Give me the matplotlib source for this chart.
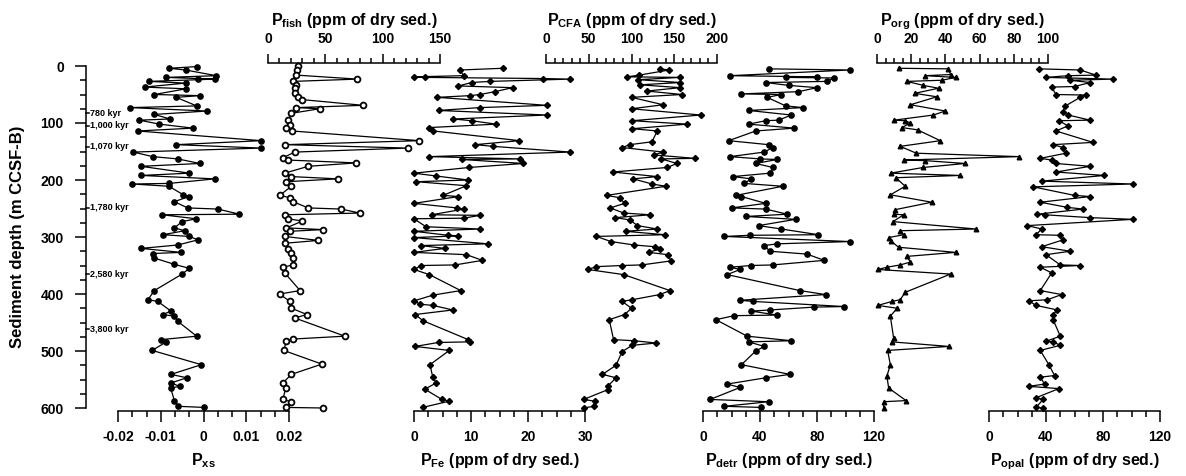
import matplotlib
matplotlib.use('Agg')
import matplotlib.pyplot as plt
from matplotlib.ticker import FixedLocator, MultipleLocator

plt.rcParams['font.family'] = ['Liberation Sans', 'DejaVu Sans']
plt.rcParams['font.weight'] = 'bold'
plt.rcParams['mathtext.fontset'] = 'custom'
plt.rcParams['mathtext.rm'] = 'Liberation Sans:bold'
plt.rcParams['mathtext.bf'] = 'Liberation Sans:bold'
plt.rcParams['mathtext.it'] = 'Liberation Sans:bold'
plt.rcParams['axes.unicode_minus'] = False

# ---- data (depth in m CCSF-B) ----
pxs_depth = [1, 4, 7, 17, 20, 22, 23, 27, 30, 37, 40, 50, 52, 55, 70, 73, 79, 85, 93, 95,
             102, 109, 114, 131, 138, 144, 151, 159, 163, 171, 176, 188, 192, 198, 206, 207, 211, 226, 229, 238,
             249, 251, 260, 261, 268, 273, 284, 289, 296, 299, 305, 314, 320, 327, 329, 337, 348, 355, 365, 394,
             410, 413, 430, 436, 439, 448, 474, 480, 484, 499, 524, 541, 547, 556, 562, 565, 587, 597, 599]
pxs = [-0.0016, -0.0080, -0.0042, 0.0030, -0.0087, -0.0013, 0.0028, -0.0128, -0.0042, -0.0138,
       -0.0041, -0.0115, -0.0008, -0.0064, -0.0016, -0.0172, 0.0008, -0.0115, -0.0078, -0.0150,
       -0.0103, -0.0025, -0.0154, 0.0135, -0.0064, 0.0135, -0.0164, -0.0119, -0.0060, -0.0009,
       -0.0146, -0.0033, -0.0146, 0.0026, -0.0080, -0.0167, -0.0081, -0.0047, -0.0034, -0.0068,
       -0.0037, 0.0034, 0.0084, -0.0097, -0.0017, -0.0050, -0.0068, -0.0044, -0.0095, -0.0033,
       -0.0013, -0.0060, -0.0146, -0.0052, -0.0119, -0.0115, -0.0068, -0.0033, -0.0050, -0.0115,
       -0.0130, -0.0107, -0.0076, -0.0095, -0.0068, -0.0060, -0.0016, -0.0099, -0.0087, -0.0120,
       -0.0005, -0.0076, -0.0039, -0.0076, -0.0056, -0.0077, -0.0068, -0.0060, 0.0002]

fish_depth = [0, 7, 16, 23, 27, 33, 39, 48, 55, 59, 69, 73, 75, 83, 95, 103, 109, 114, 131, 138,
              144, 151, 161, 165, 170, 176, 188, 194, 198, 203, 211, 227, 231, 238, 249, 251, 258, 261, 268, 272,
              284, 287, 290, 299, 306, 311, 321, 328, 337, 349, 353, 363, 394, 400, 413, 425, 436, 442, 474, 479,
              483, 499, 523, 541, 556, 565, 585, 589, 599, 600]
fish = [26, 25, 24.8, 78, 21.8, 24, 23.3, 23.3, 26, 30, 83, 24.8, 45, 20.4, 17.5, 19, 16, 21, 132, 14.6,
        122, 23.3, 13, 17.5, 77, 35, 14.6, 20.4, 61, 16, 20.4, 10.2, 19, 21.8, 35, 64, 80, 14.6, 17.5, 30,
        16, 48, 19, 14.6, 44, 14.6, 17.5, 20.4, 22, 21.8, 13, 14.6, 28, 10.2, 19, 20.4, 34, 23.3, 67, 22,
        16, 13.7, 47, 20.4, 13, 15.4, 13, 20, 16, 48]

fe_depth = [4, 7, 17, 19, 20, 22, 23, 27, 29, 35, 38, 45, 50, 52, 55, 69, 73, 78, 86, 93,
            96, 102, 108, 114, 131, 138, 141, 151, 159, 163, 164, 171, 178, 188, 193, 200, 203, 210, 227, 229,
            241, 249, 251, 261, 262, 267, 268, 282, 286, 290, 297, 298, 301, 312, 315, 320, 327, 331, 341, 349,
            350, 357, 366, 394, 402, 412, 418, 420, 428, 436, 447, 480, 484, 485, 492, 499, 524, 546, 556, 567,
            585, 588, 599]
fe = [15.6, 8.1, 8.7, 0, 1.9, 22.7, 27.4, 13.3, 10.1, 7.8, 17.3, 14.2, 11.6, 9.8, 4.1, 23.3, 11.5, 4.3, 23.3, 6.9,
      10.1, 14.4, 2.7, 3.4, 18.5, 10.7, 13.9, 27.4, 2.7, 18.6, 8.4, 19.2, 9.7, 0, 3.9, 9.5, 0.4, 9.2, 5.1, 7.8,
      0, 7.5, 8.7, 3.1, 11.6, 8.7, 0, 2.1, 11.6, 0, 6.0, 7.8, 0, 13.0, 1.2, 5.4, 0, 9.2, 12.0, 7.2,
      1.3, 0, 2.7, 8.2, 3.3, 0, 1.1, 3.3, 6.8, 0.2, 1.6, 9.5, 9.8, 4.3, 0.2, 6.2, 2.8, 3.3, 3.9, 1.9,
      4.9, 6.2, 1.5]

cfa_depth = [5, 7, 16, 19, 20, 24, 29, 33, 38, 44, 50, 55, 68, 75, 86, 96, 102, 110, 114, 133,
             138, 143, 151, 156, 162, 163, 171, 178, 186, 194, 198, 207, 211, 227, 231, 241, 249, 258, 261, 266,
             270, 280, 286, 290, 296, 299, 308, 314, 317, 321, 327, 331, 342, 349, 350, 352, 357, 366, 394, 401,
             410, 413, 425, 436, 445, 480, 482, 486, 490, 501, 525, 541, 547, 562, 568, 585, 588, 597, 600]
cfa = [133, 144, 109, 95, 157, 108, 157, 110, 157, 118, 159, 100, 137, 100, 181, 101, 165, 101, 130, 124,
       98, 89, 137, 126, 174, 135, 153, 142, 78, 130, 102, 124, 140, 71, 86, 92, 75, 91, 122, 81,
       98, 107, 130, 93, 139, 59, 76, 103, 127, 133, 120, 143, 146, 112, 89, 59, 49, 91, 145, 133,
       101, 89, 100, 92, 74, 79, 103, 129, 101, 89, 82, 66, 82, 72, 72, 44, 57, 56, 44]

detr_depth = [5, 7, 17, 19, 20, 21, 27, 29, 34, 38, 45, 49, 50, 55, 70, 73, 78, 86, 95, 96,
              102, 109, 114, 131, 138, 143, 151, 159, 163, 164, 171, 178, 188, 194, 198, 206, 211, 227, 229, 241,
              249, 251, 260, 264, 269, 280, 286, 296, 297, 299, 308, 312, 315, 325, 330, 341, 349, 350, 353, 357,
              366, 394, 401, 411, 413, 422, 423, 428, 430, 437, 438, 445, 474, 482, 484, 492, 500, 524, 541, 547,
              558, 564, 585, 589, 597, 599]
detr = [46, 103, 19, 80, 58, 92, 87, 44, 60, 80, 67, 27, 55, 45, 58, 70, 32, 62, 53, 44,
        32, 64, 37, 18, 46, 49, 43, 19, 40, 52, 37, 49, 47, 21, 34, 29, 56, 23, 27, 44,
        20, 44, 59, 30, 65, 39, 55, 81, 33, 15, 103, 52, 43, 47, 73, 85, 49, 34, 19, 26,
        17, 68, 86, 26, 35, 99, 78, 47, 34, 52, 22, 9, 31, 62, 32, 43, 37, 27, 61, 44,
        17, 26, 5, 46, 15, 41]

org_depth = [4, 5, 15, 17, 20, 25, 27, 34, 39, 48, 54, 68, 79, 86, 95, 96, 100, 108, 112, 131,
             141, 153, 159, 165, 166, 171, 178, 188, 192, 196, 211, 226, 239, 252, 260, 261, 273, 286, 289, 296,
             301, 307, 318, 327, 334, 344, 349, 353, 357, 365, 397, 410, 413, 420, 425, 439, 477, 484, 492, 499,
             524, 544, 565, 587, 589, 600]
org = [12.6, 41.8, 43, 28, 46, 38, 17.5, 27, 36, 22, 35, 19.5, 40, 33, 10, 16.5, 19.5, 14.6, 23.7, 37,
       13.6, 23, 83, 15.6, 28, 51.6, 27, 8, 48.6, 11, 16.5, 7.8, 32, 10.7, 9.7, 15.6, 9.3, 58, 13.6, 15.6,
       6.8, 8.2, 12.6, 46, 17.5, 19.5, 13.6, 5.8, 0.5, 43, 16.5, 13.6, 8.8, 0.5, 11.7, 7.8, 9.7, 8.8, 42, 6.2,
       7.8, 5.8, 6.8, 17, 3.9, 3.9]

opal_depth = [5, 7, 16, 17, 20, 23, 25, 29, 36, 37, 50, 51, 55, 71, 81, 86, 95, 96, 105, 114,
              134, 138, 143, 153, 162, 165, 171, 176, 186, 192, 202, 207, 212, 227, 229, 239, 248, 251, 260, 261,
              266, 269, 280, 286, 296, 297, 305, 317, 325, 331, 349, 350, 353, 363, 394, 401, 410, 412, 420, 428,
              436, 445, 474, 483, 484, 490, 499, 524, 543, 546, 558, 562, 566, 582, 585, 599, 600]
opal = [35, 64, 75, 55.5, 40, 87, 57, 71, 60, 44, 47, 68, 64, 53, 52, 55.5, 71, 49, 55.5, 47,
        73, 45, 52, 54, 36, 44, 47, 71, 47, 81, 37, 101, 31, 60, 71, 36, 55, 66, 34, 39,
        71, 101, 27, 37, 33, 50, 52, 37, 57, 40, 50, 64, 36, 44, 36, 51, 41, 28, 33, 48,
        45, 45, 50, 40, 45, 50, 36, 42, 46, 36, 39, 28, 49, 33, 38, 33, 38]

age_depth = [83, 105, 142, 249, 365, 462]
age_labels = ['780 kyr', '1,000 kyr', '1,070 kyr', '1,780 kyr', '2,580 kyr', '3,800 kyr']

depth_ticks = [0, 100, 200, 300, 400, 500, 600]
pxs_ticks = [-0.02, -0.01, 0, 0.01, 0.02]
pxs_ticklabels = ['-0.02', '-0.01', '0', '0.01', '0.02']
fish_ticks = [0, 50, 100, 150]
fe_ticks = [0, 10, 20, 30]
cfa_ticks = [0, 50, 100, 150, 200]
detr_ticks = [0, 40, 80, 120]
org_ticks = [0, 20, 40, 60, 80, 100]
opal_ticks = [0, 40, 80, 120]

# ---- layout in pixels ----
W, H = 1186, 476
Y_TOP, Y_BOT = 66, 408
fig = plt.figure(figsize=(W / 100, H / 100), dpi=100)


def panel(left, width, ticks, labels, minor, side, xlabel):
    ax = fig.add_axes([left / W, 1 - Y_BOT / H, width / W, (Y_BOT - Y_TOP) / H])
    ax.patch.set_visible(False)
    ax.set_ylim(600, 0)
    ax.set_xlim(ticks[0], ticks[-1])
    ax.set_yticks([])
    other = 'bottom' if side == 'top' else 'top'
    for s in ['left', 'right', other]:
        ax.spines[s].set_visible(False)
    ax.spines[side].set_position(('outward', 2))
    ax.spines[side].set_linewidth(1.1)
    ax.xaxis.set_ticks_position(side)
    ax.xaxis.set_label_position(side)
    ax.set_xticks(ticks)
    ax.set_xticklabels(labels)
    ax.xaxis.set_minor_locator(FixedLocator(minor))
    if side == 'bottom':
        ax.tick_params(axis='x', which='major', length=8, width=1.1, pad=6, labelsize=10)
        ax.tick_params(axis='x', which='minor', length=4.5, width=1.1)
    else:
        ax.tick_params(axis='x', which='major', length=6.5, width=1.1, pad=6, labelsize=10)
        ax.tick_params(axis='x', which='minor', length=3.5, width=1.1)
    ax.set_xlabel(xlabel, fontsize=11.5, fontweight='bold', labelpad=5)
    return ax


def series(ax, x, y, marker, **kw):
    ax.plot(x, y, color='black', lw=0.9, marker=marker, clip_on=False, **kw)


def steps(a, b, n):
    return [a + (b - a) * i / n for i in range(n + 1)]


ax_xs = panel(118, 171, pxs_ticks, pxs_ticklabels, steps(-0.02, 0.02, 12), 'bottom', r'$\mathregular{P_{xs}}$')
series(ax_xs, pxs, pxs_depth, 'o', ms=3.8, mfc='black', mec='black')

ax_fish = panel(268, 172, fish_ticks, [str(t) for t in fish_ticks], steps(0, 150, 15), 'top',
                r'$\mathregular{P_{fish}}$ (ppm of dry sed.)')
series(ax_fish, fish, fish_depth, 'o', ms=4.2, mfc='white', mec='black', mew=1.3)

ax_fe = panel(414, 171, fe_ticks, [str(t) for t in fe_ticks], steps(0, 30, 12), 'bottom',
              r'$\mathregular{P_{Fe}}$ (ppm of dry sed.)')
series(ax_fe, fe, fe_depth, 'D', ms=3.1, mfc='black', mec='black')

ax_cfa = panel(546, 171, cfa_ticks, [str(t) for t in cfa_ticks], steps(0, 200, 20), 'top',
               r'$\mathregular{P_{CFA}}$ (ppm of dry sed.)')
series(ax_cfa, cfa, cfa_depth, 'D', ms=3.1, mfc='black', mec='black')

ax_detr = panel(703, 171, detr_ticks, [str(t) for t in detr_ticks], steps(0, 120, 12), 'bottom',
                r'$\mathregular{P_{detr}}$ (ppm of dry sed.)')
series(ax_detr, detr, detr_depth, 'o', ms=3.8, mfc='black', mec='black')

ax_org = panel(877, 171, org_ticks, [str(t) for t in org_ticks], steps(0, 100, 20), 'top',
               r'$\mathregular{P_{org}}$ (ppm of dry sed.)')
series(ax_org, org, org_depth, '^', ms=3.3, mfc='black', mec='black')

ax_opal = panel(989, 171, opal_ticks, [str(t) for t in opal_ticks], steps(0, 120, 12), 'bottom',
                r'$\mathregular{P_{opal}}$ (ppm of dry sed.)')
series(ax_opal, opal, opal_depth, 'D', ms=3.0, mfc='black', mec='black')

# ---- depth axis with age markers ----
ax0 = fig.add_axes([86 / W, 1 - Y_BOT / H, 40 / W, (Y_BOT - Y_TOP) / H])
ax0.patch.set_visible(False)
ax0.set_ylim(600, 0)
ax0.set_xlim(0, 40)
for s in ['top', 'right', 'bottom']:
    ax0.spines[s].set_visible(False)
ax0.spines['left'].set_linewidth(1.1)
ax0.set_xticks([])
ax0.set_yticks(depth_ticks)
ax0.yaxis.set_minor_locator(MultipleLocator(25))
ax0.tick_params(axis='y', which='major', length=8, width=1.1, pad=8, labelsize=10)
ax0.tick_params(axis='y', which='minor', length=4.5, width=1.1)
ax0.set_ylabel('Sediment depth (m CCSF-B)', fontsize=12, fontweight='bold')
ax0.yaxis.set_label_coords((25 - 86) / 40, 0.5)

for d, lab in zip(age_depth, age_labels):
    ax0.plot([0, 3], [d, d], color='black', lw=1.1, clip_on=False)
    ax0.text(4, d, lab, fontsize=6.5, fontweight='bold', va='center', ha='left')

fig.savefig('out.png', dpi=100)
